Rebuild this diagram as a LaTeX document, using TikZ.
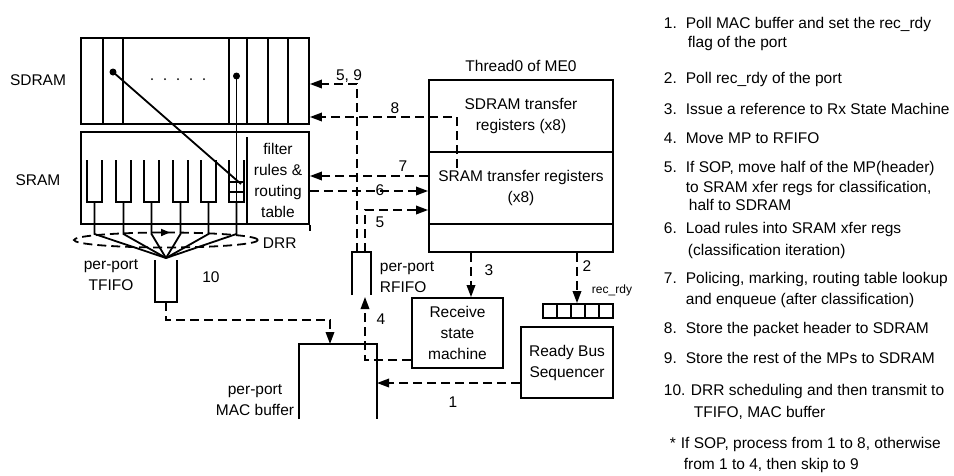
\documentclass[tikz,border=0pt]{standalone}
\usepackage{fontspec}
\setmainfont{Liberation Sans}
\usetikzlibrary{arrows.meta,calc}

\begin{document}
\begin{tikzpicture}[x=1pt,y=-1pt,line width=1.8pt,
  font=\fontsize{15.5}{21}\selectfont,
  box/.style={draw,rectangle,inner sep=0pt,align=center},
  lbl/.style={inner sep=0pt,align=center},
  flow/.style={dash pattern=on 9pt off 5pt},
  tip/.style={-{Triangle[length=12pt,width=8.5pt]}},
  smalltip/.style={-{Triangle[length=9pt,width=7pt]}},
  note/.style={anchor=base west,inner sep=0pt}]
\useasboundingbox (0,0) rectangle (954,475);

% ---------- memories ----------
\node[box,minimum width=228pt,minimum height=86pt] (sdram) at (195,81) {};
\node[box,minimum width=228pt,minimum height=92pt] (sram) at (195,178) {};
\node[lbl] (sdramlbl) at (38,80) {SDRAM};
\node[lbl] (sramlbl) at (38,180) {SRAM};

% SDRAM buffer columns
\foreach \x in {103,123,229,247,268,288}
  \draw (\x,38) -- (\x,124);
\foreach \x in {152,165,178,191,204}
  \fill (\x,79) circle[radius=1pt];
\coordinate (ptrA) at (113,72);
\coordinate (ptrB) at (236.5,76);
\fill (ptrA) circle[radius=3.5pt];
\fill (ptrB) circle[radius=3.5pt];

% SRAM: filter / routing table area
\draw (247,137) -- (247,224);
\draw (sram.south east) -- ++(0,6);
\node[lbl] (filt) at (278,180) {filter\\rules \&\\routing\\table};

% SRAM queues
\coordinate (conv) at (166,258);
\foreach \x in {87,116,144,173,201,229} {
  \draw (\x,160) |- (\x+15,202) -- (\x+15,160);
  \draw (\x+7.5,202) -- (\x+7.5,234) -- (conv);
}
\draw (229,182) -- (244,182);
\draw (229,192) -- (244,192);
\coordinate (qin) at (241,184);
\draw (ptrA) -- (qin);
\draw (ptrB) -- (236.5,202);

% DRR ring
\draw[flow] (166,240) ellipse[x radius=92pt,y radius=7.5pt];
\coordinate (drrA) at (158,232.5);
\coordinate (drrB) at (170,232.5);
\draw[smalltip] (drrA) -- (drrB);
\node[anchor=west,inner sep=0pt] (drr) at (262,243) {DRR};

% ---------- FIFOs and MAC buffer ----------
\coordinate (tf-out) at (166,302);
\draw (155,260) |- (177,302) -- (177,260);
\node[lbl] (tfifo) at (111,275.5) {per-port\\TFIFO};
\node[lbl] (n10) at (211,277) {10};

\coordinate (rf-o1) at (357,252);
\coordinate (rf-o2) at (365,252);
\coordinate (rf-in) at (365,297);
\draw (352,295) |- (371,252) -- (371,295);
\node[anchor=west,inner sep=0pt,align=left] (rfifo) at (379,277.5) {per-port\\RFIFO};

\coordinate (mac-in) at (330,344);
\coordinate (mac-ne) at (377,344);
\draw (299,419) |- (mac-ne) -- (377,419);
\node[lbl] (maclbl) at (255,400.5) {per-port\\MAC buffer};

% ---------- micro-engine thread ----------
\node[lbl] (thtitle) at (521,66) {Thread0 of ME0};
\node[box,minimum width=184pt,minimum height=72pt] (sdreg) at (521,116) {SDRAM transfer\\registers (x8)};
\node[box,minimum width=184pt,minimum height=72pt] (srreg) at (521,188) {SRAM transfer registers\\(x8)};
\node[box,minimum width=184pt,minimum height=28pt] (thbot) at (521,238) {};

\node[box,minimum width=91pt,minimum height=70pt] (rsm) at (457.5,333) {Receive\\state\\machine};
\node[box,minimum width=92pt,minimum height=71pt] (rbs) at (567,362.5) {Ready Bus\\Sequencer};

\node[box,minimum width=70pt,minimum height=14pt] (rdyreg) at (578,311) {};
\foreach \i in {1,...,4}
  \draw (543+14*\i,304) -- (543+14*\i,318);
\node[lbl,font=\fontsize{12}{14}\selectfont] (rdylbl) at (612,290) {rec\_rdy};

% ---------- numbered transfers ----------
\draw[flow,tip] (rbs.west |- 0,383) -- (mac-ne |- 0,383);
\node[lbl] (n1) at (453,402) {1};

\draw[flow,tip] (thbot.south -| 577,0) -- (rdyreg.north -| 577,0);
\node[lbl] (n2) at (587,266) {2};

\draw[flow,tip] (thbot.south -| 471,0) -- (rsm.north -| 471,0);
\node[lbl] (n3) at (489,270) {3};

\draw[flow,tip] (rsm.west |- 0,360) -| (rf-in);
\node[lbl] (n4) at (381,319) {4};

\draw[flow,tip] (rf-o2) |- (srreg.west |- 0,210);
\node[lbl] (n5) at (380,222) {5};

\draw[flow,tip] (sram.east |- 0,191) -- (srreg.west |- 0,191);
\node[lbl] (n6) at (380,190) {6};

\draw[flow,tip] (srreg.west |- 0,176) -- (sram.east |- 0,176);
\node[lbl] (n7) at (403,166) {7};

\coordinate (hdr) at (457,168);
\draw[flow,tip] (hdr) |- (sdram.east |- 0,117);
\node[lbl] (n8) at (395,108) {8};

\draw[flow,tip] (rf-o1) |- (sdram.east |- 0,84);
\node[lbl] (n59) at (349,76) {5, 9};

\draw[flow,tip] (tf-out) -- ++(0,18) -| (mac-in);

% ---------- step list ----------
\foreach \lx/\ly/\ltext [count=\i] in {
  663/28/{1.}, 663/83/{2.}, 663/114/{3.}, 663/143/{4.}, 663/172/{5.},
  663/233/{6.}, 663/283/{7.}, 663/333/{8.}, 663/363/{9.}, 663/395/{10.},
  669/448/{*}}
  \node[note] (num\i) at (\lx,\ly) {\ltext};

\foreach \lx/\ly/\ltext [count=\i] in {
  685/28/{Poll MAC buffer and set the rec\_rdy},
  687/47/{flag of the port},
  685/83/{Poll rec\_rdy of the port},
  685/114/{Issue a reference to Rx State Machine},
  685/143/{Move MP to RFIFO},
  685/172/{If SOP, move half of the MP(header)},
  685/192/{to SRAM xfer regs for classification,},
  688/210/{half to SDRAM},
  685/233/{Load rules into SRAM xfer regs},
  687/255/{(classification iteration)},
  685/283/{Policing, marking, routing table lookup},
  685/304/{and enqueue (after classification)},
  685/333/{Store the packet header to SDRAM},
  685/363/{Store the rest of the MPs to SDRAM},
  690/395/{DRR scheduling and then transmit to},
  693/417/{TFIFO, MAC buffer},
  680/448/{If SOP, process from 1 to 8, otherwise},
  683/469/{from 1 to 4, then skip to 9}}
  \node[note] (line\i) at (\lx,\ly) {\ltext};
\end{tikzpicture}
\end{document}
